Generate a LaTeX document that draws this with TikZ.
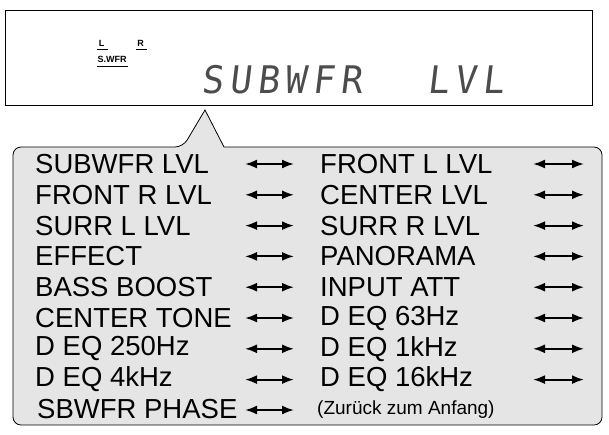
\documentclass[tikz,border=0pt]{standalone}
\usepackage{fontspec}
\usetikzlibrary{arrows.meta}
\setmainfont{Liberation Sans}
\newfontfamily\segfont{DejaVu Sans Mono}
\begin{document}
\begin{tikzpicture}[x=1pt,y=-1pt,
  item/.style={anchor=west,inner sep=0pt,font=\fontsize{27.5}{28}\selectfont},
  small/.style={anchor=west,inner sep=0pt,font=\fontsize{19}{20}\selectfont},
  lab/.style={inner sep=0pt,font=\bfseries\fontsize{9}{10}\selectfont},
  arr/.style={{Latex[length=12pt,width=9pt]}-{Latex[length=12pt,width=9pt]},line width=2pt}]
\useasboundingbox (0,0) rectangle (609,434);
% display
\node[draw,line width=0.8pt,minimum width=587pt,minimum height=95pt,anchor=north west,inner sep=0pt] (disp) at (5,10) {};
\node[lab] (l) at (101.5,43.5) {L};
\node[lab] (r) at (140.5,43.5) {R};
\node[lab] (sw) at (112,59.5) {S.WFR};
\draw[line width=1.3pt] (97,49.5) -- (108,49.5) (136,49.5) -- (147,49.5) (97,66.5) -- (128,66.5);
\node[inner sep=0pt,anchor=west,font=\segfont\fontsize{38}{38}\selectfont,xslant=0.12,text=black!70,xscale=0.95] (seg) at (203,80) {S\,U\,B\,W\,F\,R~~~L\,V\,L};
% callout
\filldraw[fill=black!10,draw=black,line width=0.8pt,rounded corners=8pt]
  (13,147) -- (183,147) [sharp corners] -- (205,110) -- (224,147) [rounded corners=8pt] -- (602,147) -- (602,425) -- (13,425) -- cycle;
\foreach \l/\r [count=\i from 0] in {SUBWFR LVL/FRONT L LVL,FRONT R LVL/CENTER LVL,SURR L LVL/SURR R LVL,EFFECT/PANORAMA,BASS BOOST/INPUT ATT,CENTER TONE/D EQ 63Hz,D EQ 250Hz/D EQ 1kHz,D EQ 4kHz/D EQ 16kHz}{
  \pgfmathsetmacro\yy{164+30.8*\i}
  \node[item] (L\i) at (35,\yy) {\l};
  \node[item] (R\i) at (320,\yy) {\r};
  \coordinate (a\i) at (245,\yy); \coordinate (b\i) at (294,\yy);
  \coordinate (c\i) at (533,\yy); \coordinate (d\i) at (584,\yy);
  \draw[arr] (a\i) -- (b\i);
  \draw[arr] (c\i) -- (d\i);
}
\node[item] (L8) at (37,409) {SBWFR PHASE};
\node[small] (R8) at (317,410) {(Zurück zum Anfang)};
\coordinate (a8) at (245,410); \coordinate (b8) at (294,410);
\draw[arr] (a8) -- (b8);
\end{tikzpicture}
\end{document}
